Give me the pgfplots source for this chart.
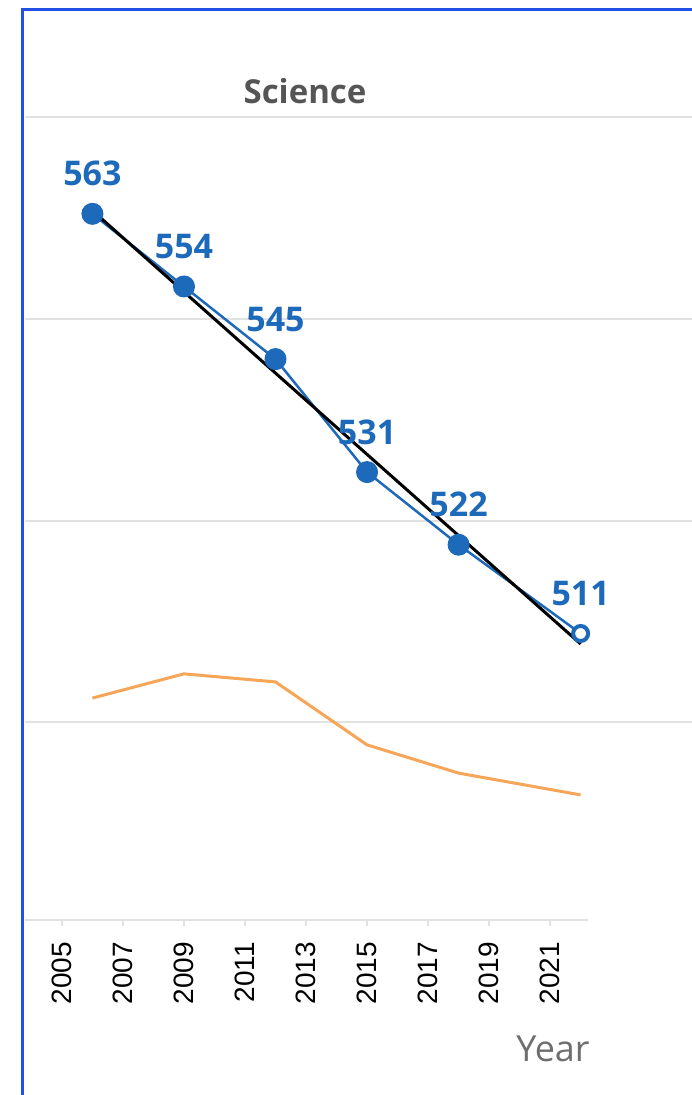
\documentclass[border=0pt]{standalone}
\usepackage{pgfplots}
\pgfplotsset{compat=1.18}
\usepackage{fontspec}
\setmainfont{Open Sans}
\newfontfamily\tickfont{Liberation Sans}
\newcommand\tf[1]{{\tickfont\fontsize{28}{28}\selectfont #1}}
\definecolor{pblue}{RGB}{30,106,186}
\definecolor{porange}{RGB}{245,166,88}
\definecolor{frameblue}{RGB}{35,80,230}
\definecolor{gridgray}{RGB}{226,226,226}
\definecolor{titlegray}{RGB}{85,85,85}
\begin{document}
\begin{tikzpicture}[x=1pt,y=1pt]
\useasboundingbox (0,0) rectangle (692,1095);
\begin{axis}[
  at={(25pt,175pt)}, anchor=south west,
  scale only axis, width=667pt, height=803pt,
  xmin=2003.79, xmax=2025.65, ymin=475.5, ymax=575,
  axis line style={draw=none},
  ytick={500,525,550,575}, yticklabels={}, ytick style={draw=none},
  ymajorgrids, grid style={gridgray, line width=2pt},
  xtick={2005,2007,...,2021}, xtick pos=lower, tick align=outside,
  major tick length=6pt, xtick style={gridgray, line width=1.5pt},
  xticklabels={\tf{2005},\tf{2007},\tf{2009},\tf{2011},\tf{2013},\tf{2015},\tf{2017},\tf{2019},\tf{2021}},
  xticklabel style={rotate=90, anchor=east, text=black, inner sep=16pt},
  clip=false,
]
\draw[gridgray, line width=2pt] (axis cs:2003.79,475.5) -- (axis cs:2022.25,475.5);
\addplot[porange, line width=3pt, mark=none] coordinates {(2006,503) (2009,506) (2012,505) (2015,497.2) (2018,493.7) (2022,491)};
\addplot[pblue, line width=2.5pt, mark=none] coordinates {(2006,563) (2009,554) (2012,545) (2015,531) (2018,522) (2022,511)};
\addplot[only marks, mark=*, mark size=10.5pt, mark options={fill=pblue, draw=pblue, line width=1pt}] coordinates {(2006,563) (2009,554) (2012,545) (2015,531) (2018,522)};
\addplot[only marks, mark=*, mark size=7.5pt, mark options={fill=white, draw=pblue, line width=4pt}] coordinates {(2022,511)};
\addplot[black, line width=3pt, mark=none] coordinates {(2006,563.4) (2022,509.7)};
\addplot[draw=none, mark=none, point meta=explicit symbolic, nodes near coords,
  nodes near coords style={text=pblue, font=\bfseries\fontsize{34}{34}\selectfont, anchor=base, yshift=28pt, inner sep=0pt}]
  coordinates {(2006,563) [563] (2009,554) [554] (2012,545) [545] (2015,531) [531] (2018,522) [522] (2022,511) [511]};
\end{axis}
\node[font=\bfseries\fontsize{33}{33}\selectfont, text=titlegray] at (305,1004) {Science};
\node[font=\fontsize{36}{36}\selectfont, text=titlegray!85] at (553,46) {Year};
\draw[frameblue, line width=3pt] (22,0) -- (22,1085) -- (692,1085);
\end{tikzpicture}
\end{document}
